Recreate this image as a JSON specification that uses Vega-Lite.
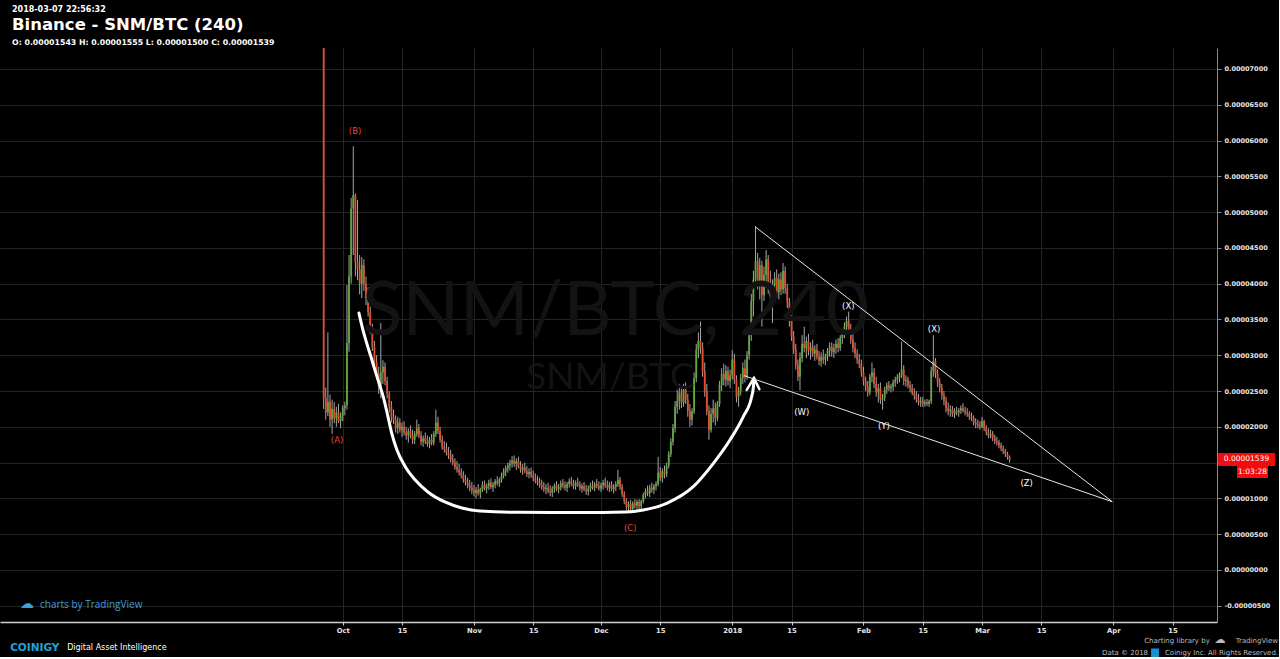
{
"$schema": "https://vega.github.io/schema/vega-lite/v6.json",
"background": "#000000",
"padding": {"left": 0, "top": 5, "right": 0, "bottom": 0},
"config": {"view": {"stroke": null}, "concat": {"spacing": 0}},
"title": {"text": "2018-03-07 22:56:32", "anchor": "start", "dx": 12, "font": "DejaVu Sans", "fontSize": 8, "fontWeight": "bold", "color": "#ffffff", "offset": 3},
"vconcat": [{
"width": 1217,
"height": 574,
"title": {"text": "Binance - SNM/BTC (240)", "subtitle": "O: 0.00001543 H: 0.00001555 L: 0.00001500 C: 0.00001539", "anchor": "start", "frame": "group", "dx": 12, "font": "DejaVu Sans", "fontSize": 16.5, "fontWeight": "bold", "color": "#ffffff", "subtitleFont": "DejaVu Sans", "subtitleFontSize": 7.8, "subtitleFontWeight": "bold", "subtitleColor": "#ffffff", "subtitlePadding": 6, "offset": 1},
"layer": [
{
"data": {"values": [
{"t":"2017-09-26 12","o":95,"h":130,"l":22.5,"c":24},
{"t":"2017-09-27 00","o":24,"h":25.5,"l":21,"c":22},
{"t":"2017-09-27 12","o":22,"h":33.2,"l":21.5,"c":23.5},
{"t":"2017-09-28 00","o":23.5,"h":24.5,"l":20,"c":21},
{"t":"2017-09-28 12","o":21,"h":23.8,"l":19,"c":22.5},
{"t":"2017-09-29 00","o":22.5,"h":23.5,"l":20.5,"c":21.2},
{"t":"2017-09-29 12","o":21.2,"h":22.8,"l":20,"c":22},
{"t":"2017-09-30 00","o":22,"h":23.2,"l":20.5,"c":20.8},
{"t":"2017-09-30 12","o":20.8,"h":22,"l":19.8,"c":21.5},
{"t":"2017-10-01 00","o":21.5,"h":23,"l":20.8,"c":22.6},
{"t":"2017-10-01 12","o":22.6,"h":23.5,"l":21.6,"c":23},
{"t":"2017-10-02 00","o":23,"h":39.8,"l":22.4,"c":31.7},
{"t":"2017-10-02 12","o":31.7,"h":44,"l":30.5,"c":41},
{"t":"2017-10-03 00","o":41,"h":52,"l":40,"c":50.5},
{"t":"2017-10-03 12","o":50.5,"h":59.2,"l":44,"c":52.4},
{"t":"2017-10-04 00","o":52.4,"h":52.6,"l":41,"c":43},
{"t":"2017-10-04 12","o":43,"h":51.7,"l":40.5,"c":42},
{"t":"2017-10-05 00","o":42,"h":44,"l":38.5,"c":40},
{"t":"2017-10-05 12","o":40,"h":43.7,"l":38,"c":42.6},
{"t":"2017-10-06 00","o":42.6,"h":43.4,"l":39,"c":40},
{"t":"2017-10-06 12","o":40,"h":41,"l":37,"c":38},
{"t":"2017-10-07 00","o":38,"h":39.5,"l":35.4,"c":36},
{"t":"2017-10-07 12","o":36,"h":36.8,"l":33,"c":33.6},
{"t":"2017-10-08 00","o":33.6,"h":34.4,"l":30.6,"c":31.2},
{"t":"2017-10-08 12","o":31.2,"h":32,"l":28.4,"c":29},
{"t":"2017-10-09 00","o":29,"h":30,"l":26.6,"c":27.4},
{"t":"2017-10-09 12","o":27.4,"h":28.4,"l":24.6,"c":25.6},
{"t":"2017-10-10 00","o":25.6,"h":34.5,"l":24,"c":27.6},
{"t":"2017-10-10 12","o":27.6,"h":29.3,"l":26,"c":28.4},
{"t":"2017-10-11 00","o":28.4,"h":29,"l":25.8,"c":26.4},
{"t":"2017-10-11 12","o":26.4,"h":27,"l":24,"c":24.6},
{"t":"2017-10-12 00","o":24.6,"h":25,"l":22,"c":22.8},
{"t":"2017-10-12 12","o":22.8,"h":23.6,"l":20.6,"c":21.4},
{"t":"2017-10-13 00","o":21.4,"h":22.4,"l":20.4,"c":21},
{"t":"2017-10-13 12","o":21,"h":21.6,"l":19.2,"c":19.8},
{"t":"2017-10-14 00","o":19.8,"h":21.4,"l":19,"c":20.6},
{"t":"2017-10-14 12","o":20.6,"h":21.2,"l":19.2,"c":19.6},
{"t":"2017-10-15 00","o":19.6,"h":20.6,"l":18.6,"c":20},
{"t":"2017-10-15 12","o":20,"h":20.8,"l":18.8,"c":19.2},
{"t":"2017-10-16 00","o":19.2,"h":20,"l":18.2,"c":18.8},
{"t":"2017-10-16 12","o":18.8,"h":19.8,"l":17.8,"c":19.4},
{"t":"2017-10-17 00","o":19.4,"h":20.2,"l":18.4,"c":18.8},
{"t":"2017-10-17 12","o":18.8,"h":19.6,"l":17.6,"c":18.2},
{"t":"2017-10-18 00","o":18.2,"h":19.4,"l":17.6,"c":19},
{"t":"2017-10-18 12","o":19,"h":21,"l":18.6,"c":19.8},
{"t":"2017-10-19 00","o":19.8,"h":20.4,"l":18.4,"c":18.8},
{"t":"2017-10-19 12","o":18.8,"h":19.4,"l":17.4,"c":17.9},
{"t":"2017-10-20 00","o":17.9,"h":18.8,"l":17.2,"c":18.4},
{"t":"2017-10-20 12","o":18.4,"h":19.2,"l":17.6,"c":18},
{"t":"2017-10-21 00","o":18,"h":18.8,"l":17.2,"c":17.6},
{"t":"2017-10-21 12","o":17.6,"h":18.6,"l":17,"c":18.2},
{"t":"2017-10-22 00","o":18.2,"h":19,"l":17.4,"c":17.8},
{"t":"2017-10-22 12","o":17.8,"h":19.4,"l":17.4,"c":19},
{"t":"2017-10-23 00","o":19,"h":22.4,"l":18.6,"c":20.6},
{"t":"2017-10-23 12","o":20.6,"h":21.4,"l":19,"c":19.4},
{"t":"2017-10-24 00","o":19.4,"h":20,"l":17.8,"c":18.2},
{"t":"2017-10-24 12","o":18.2,"h":18.8,"l":16.8,"c":17.2},
{"t":"2017-10-25 00","o":17.2,"h":18,"l":16.4,"c":16.9},
{"t":"2017-10-25 12","o":16.9,"h":17.8,"l":16,"c":16.4},
{"t":"2017-10-26 00","o":16.4,"h":17.2,"l":15.5,"c":16},
{"t":"2017-10-26 12","o":16,"h":16.8,"l":15,"c":15.4},
{"t":"2017-10-27 00","o":15.4,"h":16.2,"l":14.6,"c":15},
{"t":"2017-10-27 12","o":15,"h":15.6,"l":14,"c":14.4},
{"t":"2017-10-28 00","o":14.4,"h":15.2,"l":13.6,"c":14},
{"t":"2017-10-28 12","o":14,"h":14.8,"l":13.2,"c":13.6},
{"t":"2017-10-29 00","o":13.6,"h":14.2,"l":12.8,"c":13.2},
{"t":"2017-10-29 12","o":13.2,"h":13.8,"l":12.2,"c":12.6},
{"t":"2017-10-30 00","o":12.6,"h":13.3,"l":11.8,"c":12.2},
{"t":"2017-10-30 12","o":12.2,"h":12.9,"l":11.4,"c":11.8},
{"t":"2017-10-31 00","o":11.8,"h":12.6,"l":11,"c":11.5},
{"t":"2017-10-31 12","o":11.5,"h":12.3,"l":10.6,"c":11.1},
{"t":"2017-11-01 00","o":11.1,"h":11.9,"l":10.3,"c":10.8},
{"t":"2017-11-01 12","o":10.8,"h":11.6,"l":10,"c":11.2},
{"t":"2017-11-02 00","o":11.2,"h":12,"l":10.4,"c":10.7},
{"t":"2017-11-02 12","o":10.7,"h":11.5,"l":10,"c":11.3},
{"t":"2017-11-03 00","o":11.3,"h":12.4,"l":10.9,"c":11.9},
{"t":"2017-11-03 12","o":11.9,"h":12.5,"l":11.1,"c":11.4},
{"t":"2017-11-04 00","o":11.4,"h":12.1,"l":10.7,"c":11.7},
{"t":"2017-11-04 12","o":11.7,"h":12.6,"l":11.2,"c":12.2},
{"t":"2017-11-05 00","o":12.2,"h":12.8,"l":11.3,"c":11.6},
{"t":"2017-11-05 12","o":11.6,"h":12.3,"l":10.9,"c":11.9},
{"t":"2017-11-06 00","o":11.9,"h":12.7,"l":11.4,"c":12.4},
{"t":"2017-11-06 12","o":12.4,"h":13.1,"l":11.8,"c":12.1},
{"t":"2017-11-07 00","o":12.1,"h":12.9,"l":11.6,"c":12.6},
{"t":"2017-11-07 12","o":12.6,"h":13.6,"l":12.2,"c":13.2},
{"t":"2017-11-08 00","o":13.2,"h":14.2,"l":12.8,"c":13.8},
{"t":"2017-11-08 12","o":13.8,"h":14.6,"l":13.1,"c":14.2},
{"t":"2017-11-09 00","o":14.2,"h":15,"l":13.6,"c":14.6},
{"t":"2017-11-09 12","o":14.6,"h":15.4,"l":13.9,"c":14.9},
{"t":"2017-11-10 00","o":14.9,"h":15.9,"l":14.3,"c":15.3},
{"t":"2017-11-10 12","o":15.3,"h":16,"l":14.4,"c":14.8},
{"t":"2017-11-11 00","o":14.8,"h":15.6,"l":14,"c":15.2},
{"t":"2017-11-11 12","o":15.2,"h":15.8,"l":14.2,"c":14.5},
{"t":"2017-11-12 00","o":14.5,"h":15.2,"l":13.6,"c":14},
{"t":"2017-11-12 12","o":14,"h":14.8,"l":13.3,"c":14.3},
{"t":"2017-11-13 00","o":14.3,"h":15,"l":13.5,"c":13.8},
{"t":"2017-11-13 12","o":13.8,"h":14.5,"l":13,"c":13.4},
{"t":"2017-11-14 00","o":13.4,"h":14.2,"l":12.8,"c":13.7},
{"t":"2017-11-14 12","o":13.7,"h":14.3,"l":12.9,"c":13.2},
{"t":"2017-11-15 00","o":13.2,"h":13.9,"l":12.4,"c":12.8},
{"t":"2017-11-15 12","o":12.8,"h":13.5,"l":12.1,"c":12.5},
{"t":"2017-11-16 00","o":12.5,"h":13.2,"l":11.8,"c":12.2},
{"t":"2017-11-16 12","o":12.2,"h":12.9,"l":11.5,"c":11.9},
{"t":"2017-11-17 00","o":11.9,"h":12.6,"l":11.2,"c":11.6},
{"t":"2017-11-17 12","o":11.6,"h":12.3,"l":10.9,"c":11.3},
{"t":"2017-11-18 00","o":11.3,"h":12,"l":10.6,"c":11.5},
{"t":"2017-11-18 12","o":11.5,"h":12.2,"l":10.7,"c":11},
{"t":"2017-11-19 00","o":11,"h":11.8,"l":10.3,"c":10.8},
{"t":"2017-11-19 12","o":10.8,"h":11.7,"l":10.2,"c":11.4},
{"t":"2017-11-20 00","o":11.4,"h":12.1,"l":10.8,"c":11.8},
{"t":"2017-11-20 12","o":11.8,"h":12.4,"l":11,"c":11.3},
{"t":"2017-11-21 00","o":11.3,"h":12,"l":10.7,"c":11.6},
{"t":"2017-11-21 12","o":11.6,"h":12.5,"l":11.1,"c":12.1},
{"t":"2017-11-22 00","o":12.1,"h":12.7,"l":11.4,"c":11.8},
{"t":"2017-11-22 12","o":11.8,"h":12.4,"l":11.1,"c":11.5},
{"t":"2017-11-23 00","o":11.5,"h":12.3,"l":10.9,"c":12},
{"t":"2017-11-23 12","o":12,"h":12.8,"l":11.5,"c":12.4},
{"t":"2017-11-24 00","o":12.4,"h":13,"l":11.7,"c":12},
{"t":"2017-11-24 12","o":12,"h":12.6,"l":11.3,"c":11.7},
{"t":"2017-11-25 00","o":11.7,"h":12.5,"l":11.2,"c":12.2},
{"t":"2017-11-25 12","o":12.2,"h":12.9,"l":11.6,"c":11.9},
{"t":"2017-11-26 00","o":11.9,"h":12.4,"l":11.1,"c":11.4},
{"t":"2017-11-26 12","o":11.4,"h":12.1,"l":10.8,"c":11.7},
{"t":"2017-11-27 00","o":11.7,"h":12.3,"l":11,"c":11.2},
{"t":"2017-11-27 12","o":11.2,"h":11.9,"l":10.5,"c":11},
{"t":"2017-11-28 00","o":11,"h":11.8,"l":10.4,"c":11.4},
{"t":"2017-11-28 12","o":11.4,"h":12.2,"l":10.9,"c":11.8},
{"t":"2017-11-29 00","o":11.8,"h":12.5,"l":11.2,"c":11.5},
{"t":"2017-11-29 12","o":11.5,"h":12.3,"l":11,"c":12},
{"t":"2017-11-30 00","o":12,"h":12.7,"l":11.4,"c":11.7},
{"t":"2017-11-30 12","o":11.7,"h":12.4,"l":11.1,"c":11.4},
{"t":"2017-12-01 00","o":11.4,"h":12.2,"l":10.9,"c":11.8},
{"t":"2017-12-01 12","o":11.8,"h":12.6,"l":11.2,"c":12.2},
{"t":"2017-12-02 00","o":12.2,"h":12.9,"l":11.5,"c":11.8},
{"t":"2017-12-02 12","o":11.8,"h":12.5,"l":11.1,"c":11.5},
{"t":"2017-12-03 00","o":11.5,"h":12.3,"l":10.9,"c":11.9},
{"t":"2017-12-03 12","o":11.9,"h":12.4,"l":11,"c":11.3},
{"t":"2017-12-04 00","o":11.3,"h":12,"l":10.7,"c":11.6},
{"t":"2017-12-04 12","o":11.6,"h":12.4,"l":11,"c":12},
{"t":"2017-12-05 00","o":12,"h":14,"l":11.6,"c":12.6},
{"t":"2017-12-05 12","o":12.6,"h":13,"l":11.2,"c":11.6},
{"t":"2017-12-06 00","o":11.6,"h":12,"l":10.2,"c":10.6},
{"t":"2017-12-06 12","o":10.6,"h":11,"l":9.2,"c":9.6},
{"t":"2017-12-07 00","o":9.6,"h":10,"l":8.4,"c":8.8},
{"t":"2017-12-07 12","o":8.8,"h":9.6,"l":8,"c":9.2},
{"t":"2017-12-08 00","o":9.2,"h":9.8,"l":7.9,"c":8.5},
{"t":"2017-12-08 12","o":8.5,"h":9.6,"l":8.2,"c":9.3},
{"t":"2017-12-09 00","o":9.3,"h":9.9,"l":8.6,"c":9},
{"t":"2017-12-09 12","o":9,"h":9.8,"l":8.4,"c":9.5},
{"t":"2017-12-10 00","o":9.5,"h":9.9,"l":8.5,"c":8.9},
{"t":"2017-12-10 12","o":8.9,"h":9.8,"l":8.4,"c":9.6},
{"t":"2017-12-11 00","o":9.6,"h":10.8,"l":9.3,"c":10.5},
{"t":"2017-12-11 12","o":10.5,"h":11.4,"l":10,"c":11},
{"t":"2017-12-12 00","o":11,"h":11.8,"l":10.3,"c":10.7},
{"t":"2017-12-12 12","o":10.7,"h":11.9,"l":10.2,"c":11.5},
{"t":"2017-12-13 00","o":11.5,"h":12.2,"l":10.8,"c":11.2},
{"t":"2017-12-13 12","o":11.2,"h":12,"l":10.6,"c":11.7},
{"t":"2017-12-14 00","o":11.7,"h":12.4,"l":11.1,"c":12},
{"t":"2017-12-14 12","o":12,"h":15.8,"l":11.7,"c":13.6},
{"t":"2017-12-15 00","o":13.6,"h":14.4,"l":12.4,"c":12.9},
{"t":"2017-12-15 12","o":12.9,"h":14.2,"l":12.2,"c":13.8},
{"t":"2017-12-16 00","o":13.8,"h":14.6,"l":12.8,"c":13.4},
{"t":"2017-12-16 12","o":13.4,"h":15,"l":13,"c":14.6},
{"t":"2017-12-17 00","o":14.6,"h":16.6,"l":14.2,"c":16.2},
{"t":"2017-12-17 12","o":16.2,"h":18.4,"l":15.8,"c":17.9},
{"t":"2017-12-18 00","o":17.9,"h":20.4,"l":17.4,"c":19.8},
{"t":"2017-12-18 12","o":19.8,"h":23.6,"l":19.2,"c":22.8},
{"t":"2017-12-19 00","o":22.8,"h":25.2,"l":21.8,"c":23.6},
{"t":"2017-12-19 12","o":23.6,"h":26,"l":22.4,"c":24.8},
{"t":"2017-12-20 00","o":24.8,"h":25.6,"l":22.6,"c":23.4},
{"t":"2017-12-20 12","o":23.4,"h":26,"l":22.8,"c":25.2},
{"t":"2017-12-21 00","o":25.2,"h":26.2,"l":23.2,"c":23.8},
{"t":"2017-12-21 12","o":23.8,"h":24.6,"l":21.4,"c":22.2},
{"t":"2017-12-22 00","o":22.2,"h":23.2,"l":20,"c":21},
{"t":"2017-12-22 12","o":21,"h":22.6,"l":20.2,"c":22.2},
{"t":"2017-12-23 00","o":22.2,"h":27.6,"l":21.8,"c":26.8},
{"t":"2017-12-23 12","o":26.8,"h":31.6,"l":26.2,"c":30.8},
{"t":"2017-12-24 00","o":30.8,"h":33.2,"l":29.6,"c":32},
{"t":"2017-12-24 12","o":32,"h":34.7,"l":30.2,"c":31},
{"t":"2017-12-25 00","o":31,"h":31.8,"l":27,"c":27.8},
{"t":"2017-12-25 12","o":27.8,"h":29,"l":24.2,"c":25},
{"t":"2017-12-26 00","o":25,"h":26,"l":21.6,"c":22.2},
{"t":"2017-12-26 12","o":22.2,"h":23,"l":18.2,"c":19.6},
{"t":"2017-12-27 00","o":19.6,"h":22.6,"l":19.2,"c":21.8},
{"t":"2017-12-27 12","o":21.8,"h":23.8,"l":20.6,"c":22.6},
{"t":"2017-12-28 00","o":22.6,"h":23.4,"l":20.2,"c":21.2},
{"t":"2017-12-28 12","o":21.2,"h":23.6,"l":20.8,"c":23.2},
{"t":"2017-12-29 00","o":23.2,"h":26.4,"l":22.8,"c":25.8},
{"t":"2017-12-29 12","o":25.8,"h":28.2,"l":25,"c":27.4},
{"t":"2017-12-30 00","o":27.4,"h":28.8,"l":25.8,"c":26.6},
{"t":"2017-12-30 12","o":26.6,"h":28.6,"l":25.6,"c":27.8},
{"t":"2017-12-31 00","o":27.8,"h":28.4,"l":25.8,"c":26.4},
{"t":"2017-12-31 12","o":26.4,"h":28,"l":25.4,"c":27.2},
{"t":"2018-01-01 00","o":27.2,"h":30.7,"l":26.6,"c":29.4},
{"t":"2018-01-01 12","o":29.4,"h":30.2,"l":26,"c":26.6},
{"t":"2018-01-02 00","o":26.6,"h":27.2,"l":23.4,"c":24.2},
{"t":"2018-01-02 12","o":24.2,"h":25.6,"l":22.8,"c":25},
{"t":"2018-01-03 00","o":25,"h":27.4,"l":24.4,"c":26.8},
{"t":"2018-01-03 12","o":26.8,"h":29,"l":26,"c":28.2},
{"t":"2018-01-04 00","o":28.2,"h":29.4,"l":26.2,"c":27},
{"t":"2018-01-04 12","o":27,"h":30.6,"l":26.6,"c":30},
{"t":"2018-01-05 00","o":30,"h":33.6,"l":29.4,"c":32.8},
{"t":"2018-01-05 12","o":32.8,"h":38.6,"l":32,"c":37.6},
{"t":"2018-01-06 00","o":37.6,"h":41.8,"l":35.4,"c":40.6},
{"t":"2018-01-06 12","o":40.6,"h":48,"l":39.6,"c":43.2},
{"t":"2018-01-07 00","o":43.2,"h":44.3,"l":39.2,"c":40.2},
{"t":"2018-01-07 12","o":40.2,"h":43.6,"l":37.8,"c":42.6},
{"t":"2018-01-08 00","o":42.6,"h":43.2,"l":34,"c":38.4},
{"t":"2018-01-08 12","o":38.4,"h":42.4,"l":37.6,"c":41.2},
{"t":"2018-01-09 00","o":41.2,"h":44.7,"l":39.4,"c":43.4},
{"t":"2018-01-09 12","o":43.4,"h":44,"l":38.6,"c":39.6},
{"t":"2018-01-10 00","o":39.6,"h":41.8,"l":37,"c":38.2},
{"t":"2018-01-10 12","o":38.2,"h":40.6,"l":34.5,"c":39.8},
{"t":"2018-01-11 00","o":39.8,"h":41.6,"l":37.6,"c":40.8},
{"t":"2018-01-11 12","o":40.8,"h":42,"l":38,"c":38.8},
{"t":"2018-01-12 00","o":38.8,"h":41.4,"l":37.8,"c":40.6},
{"t":"2018-01-12 12","o":40.6,"h":41.6,"l":38.4,"c":39.2},
{"t":"2018-01-13 00","o":39.2,"h":42.9,"l":38.6,"c":41.8},
{"t":"2018-01-13 12","o":41.8,"h":42.4,"l":38.6,"c":39.4},
{"t":"2018-01-14 00","o":39.4,"h":40,"l":36.6,"c":37.4},
{"t":"2018-01-14 12","o":37.4,"h":38,"l":34,"c":34.8},
{"t":"2018-01-15 00","o":34.8,"h":35.6,"l":32,"c":32.6},
{"t":"2018-01-15 12","o":32.6,"h":33.4,"l":30.2,"c":30.8},
{"t":"2018-01-16 00","o":30.8,"h":31.6,"l":28,"c":28.6},
{"t":"2018-01-16 12","o":28.6,"h":29.4,"l":26.4,"c":27},
{"t":"2018-01-17 00","o":27,"h":30.4,"l":25.1,"c":29.6},
{"t":"2018-01-17 12","o":29.6,"h":32.8,"l":29,"c":31.6},
{"t":"2018-01-18 00","o":31.6,"h":34,"l":30.4,"c":31},
{"t":"2018-01-18 12","o":31,"h":32.6,"l":29.6,"c":32},
{"t":"2018-01-19 00","o":32,"h":33,"l":30,"c":30.6},
{"t":"2018-01-19 12","o":30.6,"h":31.8,"l":29.4,"c":31.2},
{"t":"2018-01-20 00","o":31.2,"h":32.2,"l":29.8,"c":30.2},
{"t":"2018-01-20 12","o":30.2,"h":31.4,"l":29.2,"c":30.8},
{"t":"2018-01-21 00","o":30.8,"h":31.6,"l":29.4,"c":29.8},
{"t":"2018-01-21 12","o":29.8,"h":30.6,"l":28.6,"c":29.2},
{"t":"2018-01-22 00","o":29.2,"h":30.4,"l":28.4,"c":29.8},
{"t":"2018-01-22 12","o":29.8,"h":30.8,"l":28.8,"c":29.4},
{"t":"2018-01-23 00","o":29.4,"h":30.2,"l":28.6,"c":29.8},
{"t":"2018-01-23 12","o":29.8,"h":31,"l":29.2,"c":30.6},
{"t":"2018-01-24 00","o":30.6,"h":31.8,"l":29.8,"c":31.2},
{"t":"2018-01-24 12","o":31.2,"h":31.8,"l":29.8,"c":30.4},
{"t":"2018-01-25 00","o":30.4,"h":31.6,"l":29.6,"c":31},
{"t":"2018-01-25 12","o":31,"h":32.2,"l":30.2,"c":31.6},
{"t":"2018-01-26 00","o":31.6,"h":32.4,"l":30.4,"c":31},
{"t":"2018-01-26 12","o":31,"h":32.8,"l":30.6,"c":32.4},
{"t":"2018-01-27 00","o":32.4,"h":33.6,"l":31.6,"c":33},
{"t":"2018-01-27 12","o":33,"h":34.6,"l":32.4,"c":34},
{"t":"2018-01-28 00","o":34,"h":35.4,"l":33,"c":34.8},
{"t":"2018-01-28 12","o":34.8,"h":36.1,"l":33.2,"c":33.6},
{"t":"2018-01-29 00","o":33.6,"h":34.4,"l":31.6,"c":32.2},
{"t":"2018-01-29 12","o":32.2,"h":33,"l":30.4,"c":31},
{"t":"2018-01-30 00","o":31,"h":31.8,"l":29.6,"c":30.2},
{"t":"2018-01-30 12","o":30.2,"h":30.8,"l":28.8,"c":29.4},
{"t":"2018-01-31 00","o":29.4,"h":30.2,"l":28.2,"c":28.8},
{"t":"2018-01-31 12","o":28.8,"h":29.4,"l":27,"c":27.6},
{"t":"2018-02-01 00","o":27.6,"h":28.4,"l":25.8,"c":26.4},
{"t":"2018-02-01 12","o":26.4,"h":27,"l":25,"c":25.6},
{"t":"2018-02-02 00","o":25.6,"h":26.4,"l":24.2,"c":24.8},
{"t":"2018-02-02 12","o":24.8,"h":27.4,"l":24.4,"c":27},
{"t":"2018-02-03 00","o":27,"h":29,"l":26.2,"c":27.6},
{"t":"2018-02-03 12","o":27.6,"h":28.2,"l":25.4,"c":26},
{"t":"2018-02-04 00","o":26,"h":27,"l":24.2,"c":24.8},
{"t":"2018-02-04 12","o":24.8,"h":26,"l":23.4,"c":25.4},
{"t":"2018-02-05 00","o":25.4,"h":26.2,"l":23.2,"c":23.8},
{"t":"2018-02-05 12","o":23.8,"h":24.6,"l":22.4,"c":24},
{"t":"2018-02-06 00","o":24,"h":25.6,"l":23.6,"c":25.2},
{"t":"2018-02-06 12","o":25.2,"h":26.2,"l":24.6,"c":25.8},
{"t":"2018-02-07 00","o":25.8,"h":26.4,"l":25,"c":25.4},
{"t":"2018-02-07 12","o":25.4,"h":26,"l":24.8,"c":25.6},
{"t":"2018-02-08 00","o":25.6,"h":26.6,"l":25,"c":26.2},
{"t":"2018-02-08 12","o":26.2,"h":27,"l":25.6,"c":26.6},
{"t":"2018-02-09 00","o":26.6,"h":27.4,"l":26,"c":26.9},
{"t":"2018-02-09 12","o":26.9,"h":27.6,"l":26.2,"c":27.2},
{"t":"2018-02-10 00","o":27.2,"h":31.9,"l":26.8,"c":28},
{"t":"2018-02-10 12","o":28,"h":28.6,"l":25.8,"c":26.4},
{"t":"2018-02-11 00","o":26.4,"h":27.2,"l":25.6,"c":26.6},
{"t":"2018-02-11 12","o":26.6,"h":27,"l":25.4,"c":25.8},
{"t":"2018-02-12 00","o":25.8,"h":26.4,"l":24.8,"c":25.4},
{"t":"2018-02-12 12","o":25.4,"h":26,"l":24.4,"c":24.8},
{"t":"2018-02-13 00","o":24.8,"h":25.4,"l":23.8,"c":24.4},
{"t":"2018-02-13 12","o":24.4,"h":25,"l":23.4,"c":23.8},
{"t":"2018-02-14 00","o":23.8,"h":24.6,"l":23,"c":23.4},
{"t":"2018-02-14 12","o":23.4,"h":24.2,"l":22.8,"c":23.6},
{"t":"2018-02-15 00","o":23.6,"h":24.2,"l":22.8,"c":23.2},
{"t":"2018-02-15 12","o":23.2,"h":23.8,"l":22.8,"c":23.4},
{"t":"2018-02-16 00","o":23.4,"h":23.9,"l":22.9,"c":23.2},
{"t":"2018-02-16 12","o":23.2,"h":23.8,"l":22.8,"c":23.6},
{"t":"2018-02-17 00","o":23.6,"h":28.4,"l":23.2,"c":27.8},
{"t":"2018-02-17 12","o":27.8,"h":32.8,"l":27,"c":29.2},
{"t":"2018-02-18 00","o":29.2,"h":29.6,"l":26.8,"c":27.4},
{"t":"2018-02-18 12","o":27.4,"h":28,"l":25.6,"c":26.2},
{"t":"2018-02-19 00","o":26.2,"h":26.8,"l":24.8,"c":25.4},
{"t":"2018-02-19 12","o":25.4,"h":26,"l":23.8,"c":24.4},
{"t":"2018-02-20 00","o":24.4,"h":25,"l":23,"c":23.6},
{"t":"2018-02-20 12","o":23.6,"h":24.2,"l":22,"c":22.6},
{"t":"2018-02-21 00","o":22.6,"h":23.4,"l":21.6,"c":22.2},
{"t":"2018-02-21 12","o":22.2,"h":23,"l":21.4,"c":22.4},
{"t":"2018-02-22 00","o":22.4,"h":22.9,"l":21.4,"c":21.8},
{"t":"2018-02-22 12","o":21.8,"h":22.6,"l":21.2,"c":22.2},
{"t":"2018-02-23 00","o":22.2,"h":22.8,"l":21.6,"c":22},
{"t":"2018-02-23 12","o":22,"h":22.6,"l":21.4,"c":22.3},
{"t":"2018-02-24 00","o":22.3,"h":23,"l":21.8,"c":22.6},
{"t":"2018-02-24 12","o":22.6,"h":23.3,"l":22,"c":22.2},
{"t":"2018-02-25 00","o":22.2,"h":22.8,"l":21.6,"c":22},
{"t":"2018-02-25 12","o":22,"h":22.6,"l":21.4,"c":21.8},
{"t":"2018-02-26 00","o":21.8,"h":22.2,"l":21,"c":21.4},
{"t":"2018-02-26 12","o":21.4,"h":22,"l":20.8,"c":21.2},
{"t":"2018-02-27 00","o":21.2,"h":21.6,"l":20.2,"c":20.6},
{"t":"2018-02-27 12","o":20.6,"h":21.2,"l":19.8,"c":20.4},
{"t":"2018-02-28 00","o":20.4,"h":21,"l":19.8,"c":20.2},
{"t":"2018-02-28 12","o":20.2,"h":20.8,"l":19.6,"c":20},
{"t":"2018-03-01 00","o":20,"h":21.4,"l":19.8,"c":20.8},
{"t":"2018-03-01 12","o":20.8,"h":21,"l":19.4,"c":19.8},
{"t":"2018-03-02 00","o":19.8,"h":20.2,"l":18.8,"c":19.2},
{"t":"2018-03-02 12","o":19.2,"h":19.8,"l":18.4,"c":18.8},
{"t":"2018-03-03 00","o":18.8,"h":19.6,"l":18.4,"c":19},
{"t":"2018-03-03 12","o":19,"h":19.4,"l":18,"c":18.4},
{"t":"2018-03-04 00","o":18.4,"h":18.9,"l":17.6,"c":18},
{"t":"2018-03-04 12","o":18,"h":18.6,"l":17.4,"c":17.8},
{"t":"2018-03-05 00","o":17.8,"h":18.2,"l":17,"c":17.4},
{"t":"2018-03-05 12","o":17.4,"h":17.8,"l":16.6,"c":17},
{"t":"2018-03-06 00","o":17,"h":17.4,"l":16.2,"c":16.6},
{"t":"2018-03-06 12","o":16.6,"h":16.9,"l":15.8,"c":16.2},
{"t":"2018-03-07 00","o":16.2,"h":16.5,"l":15.4,"c":15.8},
{"t":"2018-03-07 12","o":15.8,"h":16,"l":15,"c":15.39}
], "format": {"parse": {"t": "utc:'%Y-%m-%d %H'"}}},
"layer": [
{"mark": {"type": "rule", "strokeWidth": 1, "color": "#a6a6a6", "clip": true},
 "encoding": {
  "x": {"field": "t", "type": "temporal",
   "scale": {"type": "utc", "nice": false, "padding": 0, "domain": [{"year":2017,"month":7,"date":12,"hours":1,"minutes":26,"utc":true},{"year":2018,"month":4,"date":25,"hours":11,"minutes":46,"utc":true}]},
   "axis": {"values": [{"year":2017,"month":10,"date":1,"utc":true},{"year":2017,"month":10,"date":15,"utc":true},{"year":2017,"month":11,"date":1,"utc":true},{"year":2017,"month":11,"date":15,"utc":true},{"year":2017,"month":12,"date":1,"utc":true},{"year":2017,"month":12,"date":15,"utc":true},{"year":2018,"month":1,"date":1,"utc":true},{"year":2018,"month":1,"date":15,"utc":true},{"year":2018,"month":2,"date":1,"utc":true},{"year":2018,"month":2,"date":15,"utc":true},{"year":2018,"month":3,"date":1,"utc":true},{"year":2018,"month":3,"date":15,"utc":true},{"year":2018,"month":4,"date":1,"utc":true},{"year":2018,"month":4,"date":15,"utc":true}],
    "tickCount": 40,
    "labelExpr": "utcdate(datum.value) == 1 ? (utcmonth(datum.value) == 0 ? utcFormat(datum.value, '%Y') : utcFormat(datum.value, '%b')) : utcFormat(datum.value, '%d')",
    "grid": true, "gridColor": "#242424", "gridWidth": 1, "domainColor": "#d0d0d0", "domainWidth": 1.5, "tickColor": "#d0d0d0", "tickSize": 3, "labelColor": "#e6e6e6", "labelFont": "DejaVu Sans", "labelFontSize": 6.8, "labelFontWeight": "bold", "labelPadding": 2, "labelOverlap": false, "labelFlush": false, "title": null}},
  "y": {"field": "l", "type": "quantitative",
   "scale": {"domain": [-7.27, 72.93], "nice": false, "zero": false, "padding": 0},
   "axis": {"orient": "right", "values": [-5,0,5,10,15,20,25,30,35,40,45,50,55,60,65,70],
    "tickCount": 40,
    "labelExpr": "datum.value == 15 ? '' : replace(format(datum.value / 1000000, '.8f'), '\u2212', '-')",
    "grid": true, "gridColor": "#242424", "gridWidth": 1, "domainColor": "#8a8a8a", "tickColor": "#8a8a8a", "tickSize": 4, "labelColor": "#e6e6e6", "labelFont": "DejaVu Sans", "labelFontSize": 6.5, "labelFontWeight": "bold", "labelPadding": 3, "labelOverlap": false, "labelFlush": false, "title": null}},
  "y2": {"field": "h"}}},
{"mark": {"type": "bar", "width": 1.8, "clip": true},
 "encoding": {
  "x": {"field": "t", "type": "temporal"},
  "y": {"field": "o", "type": "quantitative"},
  "y2": {"field": "c"},
  "color": {"condition": {"test": "datum.c >= datum.o", "value": "#63a83f"}, "value": "#e4502c"}}}
]},
{
"data": {"values": [
{"k":"wm1","t":"2017-12-04 10","v":36.0,"s":"SNM/BTC, 240"},
{"k":"wm2","t":"2017-12-03 05","v":26.8,"s":"SNM/BTC"}
], "format": {"parse": {"t": "utc:'%Y-%m-%d %H'"}}},
"encoding": {
 "x": {"field": "t", "type": "temporal"},
 "y": {"field": "v", "type": "quantitative"},
 "text": {"field": "s"}},
"layer": [
{"transform": [{"filter": "datum.k == 'wm1'"}],
 "mark": {"type": "text", "font": "Lato", "fontSize": 75, "color": "#131313", "align": "center", "baseline": "middle"}},
{"transform": [{"filter": "datum.k == 'wm2'"}],
 "mark": {"type": "text", "font": "Lato", "fontSize": 37, "color": "#131313", "align": "center", "baseline": "middle"}}
]},
{
"data": {"values": [
{"g":"u","o":1,"t":"2017-10-04 20","v":35.9},
{"g":"u","o":2,"t":"2017-10-05 19","v":33.5},
{"g":"u","o":3,"t":"2017-10-06 16","v":31.7},
{"g":"u","o":4,"t":"2017-10-07 16","v":29.8},
{"g":"u","o":5,"t":"2017-10-08 15","v":27.9},
{"g":"u","o":6,"t":"2017-10-09 14","v":26.1},
{"g":"u","o":7,"t":"2017-10-10 14","v":24.2},
{"g":"u","o":8,"t":"2017-10-11 14","v":21.7},
{"g":"u","o":9,"t":"2017-10-12 14","v":19.1},
{"g":"u","o":10,"t":"2017-10-13 19","v":16.8},
{"g":"u","o":11,"t":"2017-10-15 17","v":14.5},
{"g":"u","o":12,"t":"2017-10-18 02","v":12.6},
{"g":"u","o":13,"t":"2017-10-21 03","v":10.9},
{"g":"u","o":14,"t":"2017-10-25 03","v":9.5},
{"g":"u","o":15,"t":"2017-10-29 04","v":8.66},
{"g":"u","o":16,"t":"2017-11-02 10","v":8.24},
{"g":"u","o":17,"t":"2017-11-11 22","v":8.05},
{"g":"u","o":18,"t":"2017-11-26 01","v":8.03},
{"g":"u","o":19,"t":"2017-12-06 16","v":8.1},
{"g":"u","o":20,"t":"2017-12-11 00","v":8.38},
{"g":"u","o":21,"t":"2017-12-16 12","v":9.32},
{"g":"u","o":22,"t":"2017-12-22 19","v":11.64},
{"g":"u","o":23,"t":"2017-12-27 13","v":14.9},
{"g":"u","o":24,"t":"2017-12-31 11","v":18.16},
{"g":"u","o":25,"t":"2018-01-03 14","v":21.4},
{"g":"u","o":26,"t":"2018-01-05 14","v":24.2},
{"g":"u","o":27,"t":"2018-01-06 00","v":25.6},
{"g":"u","o":28,"t":"2018-01-06 03","v":26.8},
{"g":"a","o":1,"t":"2018-01-04 10","v":25.15},
{"g":"a","o":2,"t":"2018-01-06 03","v":26.8},
{"g":"a","o":3,"t":"2018-01-07 10","v":25.25},
{"g":"w1","o":1,"t":"2018-01-06 09","v":47.97},
{"g":"w1","o":2,"t":"2018-03-31 18","v":9.54},
{"g":"w2","o":1,"t":"2018-01-03 19","v":27.15},
{"g":"w2","o":2,"t":"2018-03-31 18","v":9.54}
], "format": {"parse": {"t": "utc:'%Y-%m-%d %H'"}}},
"encoding": {
 "x": {"field": "t", "type": "temporal"},
 "y": {"field": "v", "type": "quantitative"},
 "order": {"field": "o"}},
"layer": [
{"transform": [{"filter": "datum.g == 'u'"}],
 "mark": {"type": "line", "color": "#ffffff", "strokeWidth": 3, "interpolate": "monotone", "strokeCap": "round"}},
{"transform": [{"filter": "datum.g == 'a'"}],
 "mark": {"type": "line", "color": "#ffffff", "strokeWidth": 2.5, "strokeCap": "round"}},
{"transform": [{"filter": "datum.g == 'w1' || datum.g == 'w2'"}],
 "mark": {"type": "line", "color": "#e8e8e8", "strokeWidth": 1},
 "encoding": {"detail": {"field": "g"}}}
]},
{
"data": {"values": [
{"k":"tag","t":"2018-04-25 18","t2":"2018-05-09 05","v":16.35,"v2":14.53},
{"k":"tag","t":"2018-04-30 05","t2":"2018-05-07 13","v":14.53,"v2":12.85},
{"k":"ico","t":"2018-04-09 22","t2":"2018-04-11 19","v":-10.97,"v2":-12.16}
], "format": {"parse": {"t": "utc:'%Y-%m-%d %H'", "t2": "utc:'%Y-%m-%d %H'"}}},
"mark": {"type": "rect"},
"encoding": {
 "x": {"field": "t", "type": "temporal"},
 "x2": {"field": "t2"},
 "y": {"field": "v", "type": "quantitative"},
 "y2": {"field": "v2"},
 "color": {"field": "k", "type": "nominal", "scale": {"domain": ["tag","ico"], "range": ["#f20d0d","#1a8fd0"]}, "legend": null}}
},
{
"data": {"values": [
{"k":"red","t":"2017-10-03 22","v":61.3,"s":"(B)"},
{"k":"red","t":"2017-09-29 16","v":18.2,"s":"(A)"},
{"k":"red","t":"2017-12-07 22","v":5.87,"s":"(C)"},
{"k":"white","t":"2018-01-17 10","v":22.1,"s":"(W)"},
{"k":"white","t":"2018-01-28 10","v":36.9,"s":"(X)"},
{"k":"white","t":"2018-02-05 20","v":20.1,"s":"(Y)"},
{"k":"white","t":"2018-02-17 16","v":33.6,"s":"(X)"},
{"k":"white","t":"2018-03-11 13","v":12.2,"s":"(Z)"},
{"k":"tv","t":"2017-07-21 12","v":-4.89,"s":"charts by TradingView"},
{"k":"cloud","t":"2017-07-18 11","v":-4.8,"s":"☁"},
{"k":"coin","t":"2017-07-14 11","v":-10.9,"s":"COINIGY"},
{"k":"dai","t":"2017-07-27 22","v":-10.9,"s":"Digital Asset Intelligence"},
{"k":"cr","t":"2018-04-23 19","v":-9.92,"s":"Charting library by"},
{"k":"cr","t":"2018-05-09 22","v":-9.92,"s":"TradingView"},
{"k":"crc","t":"2018-04-26 05","v":-9.85,"s":"☁"},
{"k":"cr","t":"2018-04-09 05","v":-11.6,"s":"Data © 2018"},
{"k":"cr","t":"2018-05-09 22","v":-11.6,"s":"Coinigy Inc. All Rights Reserved."},
{"k":"tag","t":"2018-05-02 11","v":15.44,"s":"0.00001539"},
{"k":"tag","t":"2018-05-03 21","v":13.69,"s":"1:03:28"}
], "format": {"parse": {"t": "utc:'%Y-%m-%d %H'"}}},
"encoding": {
 "x": {"field": "t", "type": "temporal"},
 "y": {"field": "v", "type": "quantitative"},
 "text": {"field": "s"}},
"layer": [
{"transform": [{"filter": "datum.k == 'red'"}],
 "mark": {"type": "text", "font": "DejaVu Sans", "fontSize": 8.5, "color": "#e0483e", "align": "center", "baseline": "middle"}},
{"transform": [{"filter": "datum.k == 'white'"}],
 "mark": {"type": "text", "font": "DejaVu Sans", "fontSize": 8.5, "color": "#ffffff", "align": "center", "baseline": "middle"}},
{"transform": [{"filter": "datum.k == 'tv'"}],
 "mark": {"type": "text", "font": "Open Sans", "fontSize": 10, "color": "#3f9fdc", "align": "left", "baseline": "middle"}},
{"transform": [{"filter": "datum.k == 'cloud'"}],
 "mark": {"type": "text", "font": "DejaVu Sans", "fontSize": 14, "color": "#3f9fdc", "align": "center", "baseline": "middle"}},
{"transform": [{"filter": "datum.k == 'coin'"}],
 "mark": {"type": "text", "font": "DejaVu Sans", "fontSize": 10.5, "fontWeight": "bold", "color": "#1fa3dc", "align": "left", "baseline": "middle"}},
{"transform": [{"filter": "datum.k == 'dai'"}],
 "mark": {"type": "text", "font": "DejaVu Sans", "fontSize": 8, "color": "#ffffff", "align": "left", "baseline": "middle"}},
{"transform": [{"filter": "datum.k == 'cr'"}],
 "mark": {"type": "text", "font": "DejaVu Sans", "fontSize": 7, "color": "#bdbdbd", "align": "right", "baseline": "middle"}},
{"transform": [{"filter": "datum.k == 'crc'"}],
 "mark": {"type": "text", "font": "DejaVu Sans", "fontSize": 11, "color": "#bdbdbd", "align": "center", "baseline": "middle"}},
{"transform": [{"filter": "datum.k == 'tag'"}],
 "mark": {"type": "text", "font": "DejaVu Sans", "fontSize": 7.5, "color": "#ffffff", "align": "center", "baseline": "middle"}}
]}
]
}]
}
